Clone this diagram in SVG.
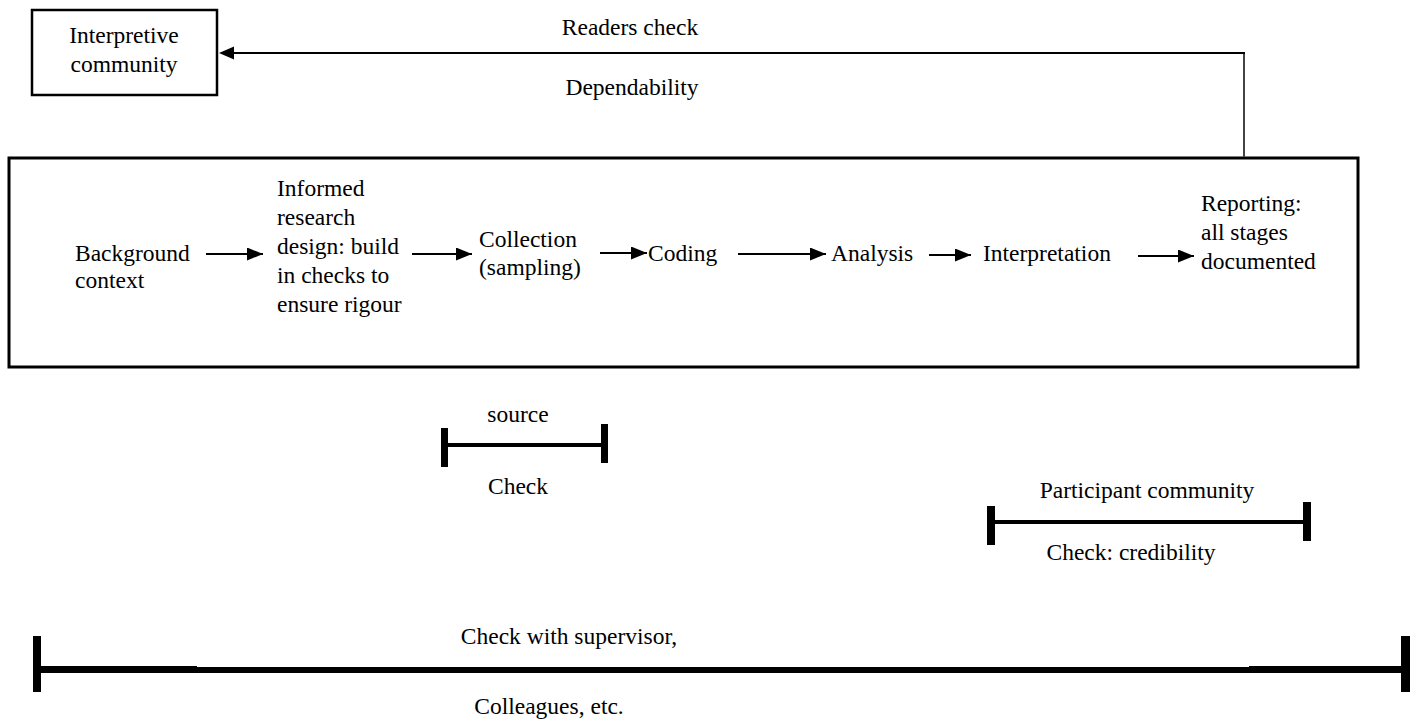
<svg xmlns="http://www.w3.org/2000/svg" width="1416" height="721" viewBox="0 0 1416 721">
  <defs>
    <marker id="head" viewBox="0 0 16 13" refX="16" refY="6.5" markerWidth="16" markerHeight="13" markerUnits="userSpaceOnUse" orient="auto">
      <path d="M0,0 L16,6.5 L0,13 Z" fill="#000"/>
    </marker>
    <style>
      text { font-family: "Liberation Serif", "Times New Roman", serif; font-size: 23.5px; fill: #000; }
      .mid { text-anchor: middle; }
      .box { fill: #fff; stroke: #000; }
      .flow { stroke: #000; stroke-width: 2; fill: none; marker-end: url(#head); }
      .bar { fill: #000; }
    </style>
  </defs>

  <rect width="1416" height="721" fill="#fff"/>

  <!-- audience box -->
  <g id="interpretive-community">
    <rect class="box" x="32" y="10" width="185" height="85" stroke-width="2.5"/>
    <text class="mid" x="124" y="43">Interpretive</text>
    <text class="mid" x="124" y="72">community</text>
  </g>

  <!-- research process frame -->
  <g id="process">
    <rect class="box" x="9" y="158" width="1349" height="209" stroke-width="3"/>
  </g>

  <g id="background">
    <text x="75" y="261">Background</text>
    <text x="75" y="288">context</text>
  </g>
  <g id="design">
    <text x="277" y="196">Informed</text>
    <text x="277" y="225">research</text>
    <text x="277" y="254">design: build</text>
    <text x="277" y="283">in checks to</text>
    <text x="277" y="312">ensure rigour</text>
  </g>
  <g id="collection">
    <text x="479" y="247">Collection</text>
    <text x="479" y="275">(sampling)</text>
  </g>
  <g id="coding">
    <text x="648" y="261">Coding</text>
  </g>
  <g id="analysis">
    <text x="831" y="261">Analysis</text>
  </g>
  <g id="interpretation">
    <text x="983" y="261">Interpretation</text>
  </g>
  <g id="reporting">
    <text x="1201" y="211">Reporting:</text>
    <text x="1201" y="240">all stages</text>
    <text x="1201" y="269">documented</text>
  </g>

  <!-- connectors -->
  <g id="connectors">
    <line class="flow" x1="206" y1="254" x2="263" y2="254"/>
    <line class="flow" x1="412" y1="254" x2="472" y2="254"/>
    <line class="flow" x1="600" y1="253" x2="647" y2="253"/>
    <line class="flow" x1="738" y1="254" x2="826" y2="254"/>
    <line class="flow" x1="929" y1="255" x2="971" y2="255"/>
    <line class="flow" x1="1138" y1="256" x2="1194" y2="256"/>
    <line x1="1244" y1="157" x2="1244" y2="52" stroke="#444" stroke-width="2"/>
    <line x1="1245" y1="53" x2="232" y2="53" stroke="#000" stroke-width="2"/>
    <path d="M219,53 L234,46.5 L234,59.5 Z" fill="#000"/>
  </g>

  <g id="readers-check">
    <text class="mid" x="630" y="35">Readers check</text>
    <text class="mid" x="632" y="95">Dependability</text>
  </g>

  <!-- source check span -->
  <g id="source-check">
    <rect class="bar" x="441" y="428" width="7" height="39"/>
    <rect class="bar" x="601" y="424" width="7" height="39"/>
    <rect class="bar" x="444" y="443" width="160" height="4"/>
    <text class="mid" x="518" y="422">source</text>
    <text class="mid" x="518" y="494">Check</text>
  </g>

  <!-- participant check span -->
  <g id="participant-check">
    <rect class="bar" x="987" y="506" width="8" height="39"/>
    <rect class="bar" x="1303" y="502" width="8" height="39"/>
    <rect class="bar" x="991" y="520" width="316" height="4"/>
    <text class="mid" x="1147" y="498">Participant community</text>
    <text class="mid" x="1131" y="560">Check: credibility</text>
  </g>

  <!-- supervisor check span -->
  <g id="supervisor-check">
    <rect class="bar" x="33" y="636" width="8" height="56"/>
    <rect class="bar" x="1401" y="636" width="9" height="56"/>
    <rect class="bar" x="37" y="666" width="160" height="7"/>
    <rect class="bar" x="197" y="667" width="1052" height="6"/>
    <rect class="bar" x="1249" y="666" width="156" height="7"/>
    <text class="mid" x="569" y="644">Check with supervisor,</text>
    <text class="mid" x="549" y="714">Colleagues, etc.</text>
  </g>
</svg>
